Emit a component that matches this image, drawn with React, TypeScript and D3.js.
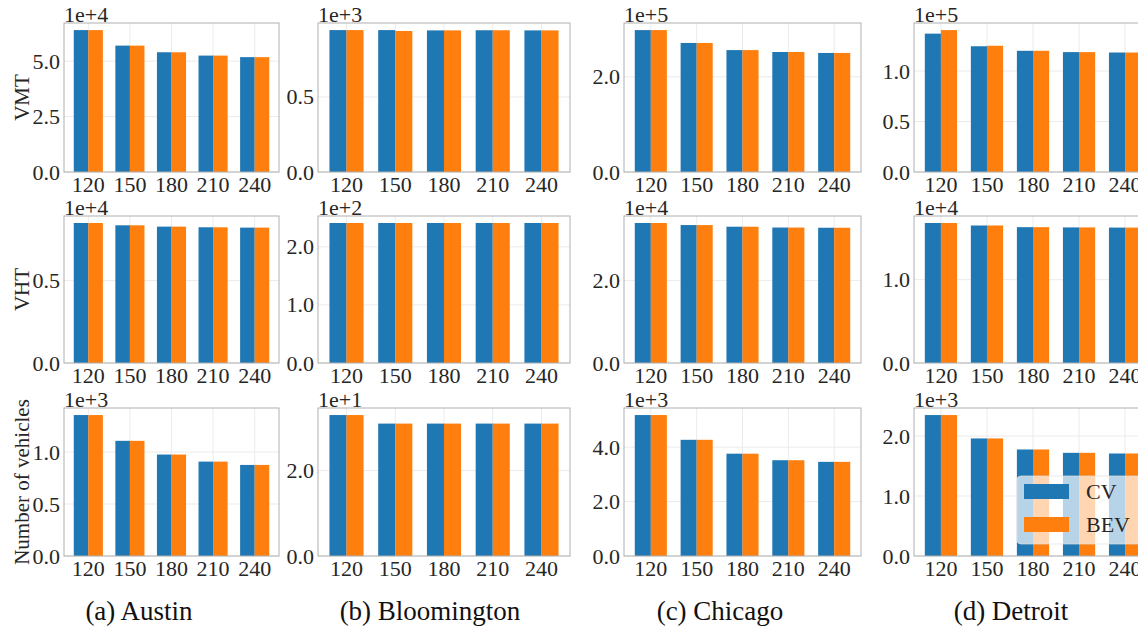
import React, { useEffect, useRef } from "react";
import * as d3 from "d3";

// categories / labels
const budgets = ["120", "150", "180", "210", "240"];
const captions = ["(a) Austin", "(b) Bloomington", "(c) Chicago", "(d) Detroit"];
const metrics = ["VMT", "VHT", "Number of vehicles"];
const seriesNames = ["CV", "BEV"];

// values per city (Austin, Bloomington, Chicago, Detroit)
const vmtCV = [
  [64000, 57000, 54000, 52500, 51800],
  [946, 946, 944, 945, 944],
  [298000, 271000, 256000, 252000, 250000],
  [137000, 124500, 120000, 118700, 118300],
];
const vmtBEV = [
  [64000, 57000, 54000, 52500, 51800],
  [946, 940, 944, 945, 944],
  [298000, 271000, 256000, 252000, 250000],
  [140500, 125000, 120000, 118700, 118300],
];
const vhtCV = [
  [8500, 8360, 8280, 8240, 8220],
  [241, 241, 241, 241, 241],
  [33900, 33400, 33000, 32800, 32750],
  [16800, 16500, 16300, 16270, 16250],
];
const vhtBEV = [
  [8500, 8360, 8280, 8240, 8220],
  [241, 241, 241, 241, 241],
  [33900, 33400, 33000, 32800, 32750],
  [16800, 16500, 16300, 16270, 16250],
];
const vehCV = [
  [1356, 1108, 976, 908, 876],
  [33, 31, 31, 31, 31],
  [5180, 4270, 3760, 3520, 3460],
  [2350, 1960, 1776, 1720, 1709],
];
const vehBEV = [
  [1356, 1108, 976, 908, 876],
  [33, 31, 31, 31, 31],
  [5180, 4270, 3760, 3520, 3460],
  [2350, 1960, 1776, 1720, 1709],
];

// y offset exponents and tick labels (in units of 1e+exp)
const vmtExp = [4, 3, 5, 5];
const vhtExp = [4, 2, 4, 4];
const vehExp = [3, 1, 3, 3];
const vmtTicks = [[0, 2.5, 5], [0, 0.5], [0, 2], [0, 0.5, 1]];
const vhtTicks = [[0, 0.5], [0, 1, 2], [0, 2], [0, 1]];
const vehTicks = [[0, 0.5, 1], [0, 2], [0, 2, 4], [0, 1, 2]];

const colors = ["#1f77b4", "#ff7f0e"];

const drawChart = (node: SVGSVGElement) => {
  const svg = d3.select(node);
  svg.selectAll("*").remove();

  const font = "'Liberation Serif', 'Times New Roman', serif";
  const colX = [[64, 279], [318, 570], [624, 861], [914, 1152]];
  const rowY = [[23, 172], [216, 363], [408, 556]];

  const rows = [
    { cv: vmtCV, bev: vmtBEV, exp: vmtExp, ticks: vmtTicks },
    { cv: vhtCV, bev: vhtBEV, exp: vhtExp, ticks: vhtTicks },
    { cv: vehCV, bev: vehBEV, exp: vehExp, ticks: vehTicks },
  ];

  const barW = 0.35;

  rows.forEach((row, r) => {
    for (let c = 0; c < 4; c++) {
      const [x0, x1] = colX[c];
      const [y0, y1] = rowY[r];
      const scale = Math.pow(10, row.exp[c]);
      const cv = row.cv[c].map((v) => v / scale);
      const bev = row.bev[c].map((v) => v / scale);
      const ymax = (d3.max(cv.concat(bev)) as number) * 1.05;

      const x = d3.scaleLinear().domain([-0.585, 4.585]).range([x0, x1]);
      const y = d3.scaleLinear().domain([0, ymax]).range([y1, y0]);

      const g = svg.append("g");

      // grid
      g.selectAll(".vg")
        .data(budgets)
        .enter()
        .append("line")
        .attr("x1", (_d, i) => x(i))
        .attr("x2", (_d, i) => x(i))
        .attr("y1", y0)
        .attr("y2", y1)
        .attr("stroke", "#ebebeb")
        .attr("stroke-width", 1);
      g.selectAll(".hg")
        .data(row.ticks[c])
        .enter()
        .append("line")
        .attr("x1", x0)
        .attr("x2", x1)
        .attr("y1", (d) => y(d))
        .attr("y2", (d) => y(d))
        .attr("stroke", "#ebebeb")
        .attr("stroke-width", 1);

      // bars
      [cv, bev].forEach((vals, s) => {
        g.selectAll(".bar" + s)
          .data(vals)
          .enter()
          .append("rect")
          .attr("x", (_d, i) => x(i - barW + s * barW))
          .attr("width", x(barW) - x(0))
          .attr("y", (d) => y(d))
          .attr("height", (d) => y(0) - y(d))
          .attr("fill", colors[s]);
      });

      // frame
      g.append("rect")
        .attr("x", x0)
        .attr("y", y0)
        .attr("width", x1 - x0)
        .attr("height", y1 - y0)
        .attr("fill", "none")
        .attr("stroke", "#b0b0b0")
        .attr("stroke-width", 1);

      // tick labels
      g.selectAll(".yt")
        .data(row.ticks[c])
        .enter()
        .append("text")
        .attr("x", x0 - 4)
        .attr("y", (d) => y(d) + 7.5)
        .attr("text-anchor", "end")
        .attr("font-family", font)
        .attr("font-size", 22)
        .attr("fill", "#262626")
        .text((d) => d3.format(".1f")(d));
      g.selectAll(".xt")
        .data(budgets)
        .enter()
        .append("text")
        .attr("x", (_d, i) => x(i))
        .attr("y", y1 + 20)
        .attr("text-anchor", "middle")
        .attr("font-family", font)
        .attr("font-size", 22)
        .attr("fill", "#262626")
        .text((d) => d);

      // offset text
      g.append("text")
        .attr("x", x0)
        .attr("y", y0 - 1)
        .attr("font-family", font)
        .attr("font-size", 22)
        .attr("fill", "#262626")
        .text("1e+" + row.exp[c]);

      if (c === 0) {
        const cy = (y0 + y1) / 2;
        g.append("text")
          .attr("transform", "translate(22," + cy + ") rotate(-90)")
          .attr("text-anchor", "middle")
          .attr("dominant-baseline", "central")
          .attr("font-family", font)
          .attr("font-size", 21)
          .attr("fill", "#262626")
          .text(metrics[r]);
      }
    }
  });

  // legend in the last panel
  const lg = svg.append("g");
  lg.append("rect")
    .attr("x", 1017)
    .attr("y", 476)
    .attr("width", 128)
    .attr("height", 68)
    .attr("rx", 4)
    .attr("fill", "#ffffff")
    .attr("fill-opacity", 0.68)
    .attr("stroke", "#e0e0e0")
    .attr("stroke-opacity", 0.7);
  seriesNames.forEach((name, s) => {
    lg.append("rect")
      .attr("x", 1024)
      .attr("y", 484 + s * 33)
      .attr("width", 45)
      .attr("height", 15)
      .attr("fill", colors[s]);
    lg.append("text")
      .attr("x", 1086)
      .attr("y", 499 + s * 33)
      .attr("font-family", font)
      .attr("font-size", 22)
      .attr("fill", "#262626")
      .text(name);
  });

  // captions
  const capX = [139, 430, 720, 1011];
  svg.selectAll(".cap")
    .data(captions)
    .enter()
    .append("text")
    .attr("x", (_d, i) => capX[i])
    .attr("y", 620)
    .attr("text-anchor", "middle")
    .attr("font-family", font)
    .attr("font-size", 27)
    .attr("fill", "#111")
    .text((d) => d);
};

const App = () => {
  const ref = useRef<SVGSVGElement>(null);
  useEffect(() => {
    if (ref.current) drawChart(ref.current);
  });
  return (
    <svg
      ref={ref}
      width={1138}
      height={628}
      style={{ position: "absolute", left: 0, top: 0, background: "#fff" }}
    />
  );
};

export default App;
